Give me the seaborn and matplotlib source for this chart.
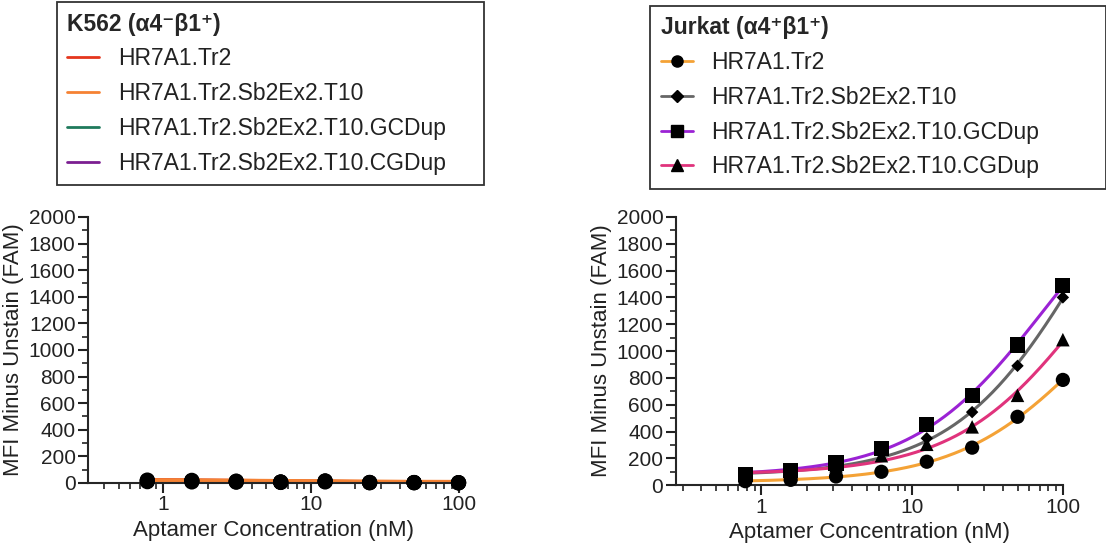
import numpy as np
import pandas as pd
import matplotlib
matplotlib.use("Agg")
import matplotlib.pyplot as plt
from matplotlib.lines import Line2D
from matplotlib.ticker import LogLocator, MultipleLocator, FixedLocator
import seaborn as sns

# ---- data ----
conc = [0.78125, 1.5625, 3.125, 6.25, 12.5, 25, 50, 100]
series = ["HR7A1.Tr2", "HR7A1.Tr2.Sb2Ex2.T10",
          "HR7A1.Tr2.Sb2Ex2.T10.GCDup", "HR7A1.Tr2.Sb2Ex2.T10.CGDup"]

k562_tr2 = [22, 20, 14, 8, 16, 4, 4, 3]
k562_t10 = [16, 14, 10, 6, 12, 3, 3, 2]
k562_gcdup = [18, 16, 12, 7, 14, 4, 3, 2]
k562_cgdup = [10, 8, 6, 4, 8, 2, 2, 1]

jur_tr2 = [30, 40, 65, 100, 175, 280, 510, 785]
jur_t10 = [60, 90, 150, 240, 350, 545, 890, 1400]
jur_gcdup = [80, 110, 165, 275, 455, 670, 1045, 1490]
jur_cgdup = [55, 85, 145, 220, 305, 435, 670, 1085]

k562_colors = ["#E5361D", "#F58233", "#1F7A5C", "#7B1E91"]
jur_colors = ["#F4A236", "#666666", "#9B22D4", "#E0337C"]
jur_markers = ["o", "D", "s", "^"]
jur_msize = [105, 40, 120, 95]


def fit_curve(x, y):
    # one site binding with baseline: y = c + Bmax*x/(Kd+x)
    x = np.asarray(x, float)
    y = np.asarray(y, float)
    best = None
    for kd in np.logspace(-2, 4, 600):
        A = np.column_stack([np.ones_like(x), x / (kd + x)])
        coef, *_ = np.linalg.lstsq(A, y, rcond=None)
        err = np.sum((A @ coef - y) ** 2)
        if best is None or err < best[0]:
            best = (err, kd, coef)
    _, kd, coef = best
    xs = np.logspace(np.log10(x.min()), np.log10(x.max()), 200)
    return xs, coef[0] + coef[1] * xs / (kd + xs)


sns.set_style("ticks")
plt.rcParams["font.family"] = ["Liberation Sans", "DejaVu Sans"]
plt.rcParams["axes.linewidth"] = 1.5
plt.rcParams["xtick.major.width"] = 1.5
plt.rcParams["ytick.major.width"] = 1.5
plt.rcParams["xtick.minor.width"] = 1.2
plt.rcParams["ytick.minor.width"] = 1.2
plt.rcParams["xtick.color"] = "#222222"
plt.rcParams["ytick.color"] = "#222222"

fig = plt.figure(figsize=(11.06, 5.52), dpi=100)
ax1 = fig.add_axes([0.0796, 0.125, 0.335, 0.482])
ax2 = fig.add_axes([0.611, 0.121, 0.350, 0.486])

# ---- K562 ----
k562 = [k562_tr2, k562_t10, k562_gcdup, k562_cgdup]
for i in [2, 3, 0, 1]:
    xs, ys = fit_curve(conc, k562[i])
    sns.lineplot(x=xs, y=ys, ax=ax1, color=k562_colors[i],
                 lw=4 if i == 1 else 3, zorder=2)
for vals in k562:
    sns.scatterplot(x=conc, y=vals, ax=ax1, color="black", marker="o",
                    s=120, edgecolor="none", zorder=3, clip_on=False)

# ---- Jurkat ----
jur = [jur_tr2, jur_t10, jur_gcdup, jur_cgdup]
for i, vals in enumerate(jur):
    xs, ys = fit_curve(conc, vals)
    sns.lineplot(x=xs, y=ys, ax=ax2, color=jur_colors[i], lw=2.2, zorder=2)
for i, vals in enumerate(jur):
    sns.scatterplot(x=conc, y=vals, ax=ax2, color="black", marker=jur_markers[i],
                    s=jur_msize[i], edgecolor="none", zorder=3, clip_on=False)

for ax, lo in [(ax1, 0.31), (ax2, 0.27)]:
    ax.set_xscale("log")
    ax.set_xlim(lo, 100)
    ax.set_ylim(0, 2000)
    ax.yaxis.set_major_locator(MultipleLocator(200))
    ax.yaxis.set_minor_locator(MultipleLocator(100))
    ax.xaxis.set_major_locator(FixedLocator([1, 10, 100]))
    ax.xaxis.set_minor_locator(LogLocator(base=10, subs=np.arange(2, 10)))
    ax.set_xticklabels(["1", "10", "100"])
    ax.tick_params(axis="both", which="major", length=7, labelsize=15, pad=2)
    ax.tick_params(axis="both", which="minor", length=4)
    ax.set_xlabel("Aptamer Concentration (nM)", fontsize=16, color="#222222",
                  labelpad=4)
    ax.set_ylabel("MFI Minus Unstain (FAM)", fontsize=16, color="#222222",
                  labelpad=3)
    for s in ["top", "right"]:
        ax.spines[s].set_visible(False)

# ---- legends ----
h1 = [Line2D([], [], color=c, lw=2) for c in k562_colors]
h2 = [Line2D([], [], color=c, lw=2, marker=m, markerfacecolor="black",
             markeredgecolor="black", markersize=8 if m != "D" else 6)
      for c, m in zip(jur_colors, jur_markers)]

for handles, title, box in [(h1, "K562 (α4⁻β1⁺)", (0.0515, 0.996, 0.386, 0)),
                            (h2, "Jurkat (α4⁺β1⁺)", (0.588, 0.99, 0.412, 0))]:
    leg = fig.legend(handles, series, loc="upper left", bbox_to_anchor=box,
                     mode="expand", borderaxespad=0, fontsize=16.5,
                     title=title, title_fontproperties={"weight": "bold", "size": 16.5},
                     alignment="left", frameon=True, fancybox=False,
                     edgecolor="#333333", framealpha=1, handlelength=1.4,
                     handletextpad=0.8, labelspacing=0.52, borderpad=0.45)
    leg.get_frame().set_linewidth(1.3)
    for t in leg.get_texts():
        t.set_color("#222222")

fig.savefig("out.png", dpi=100)
